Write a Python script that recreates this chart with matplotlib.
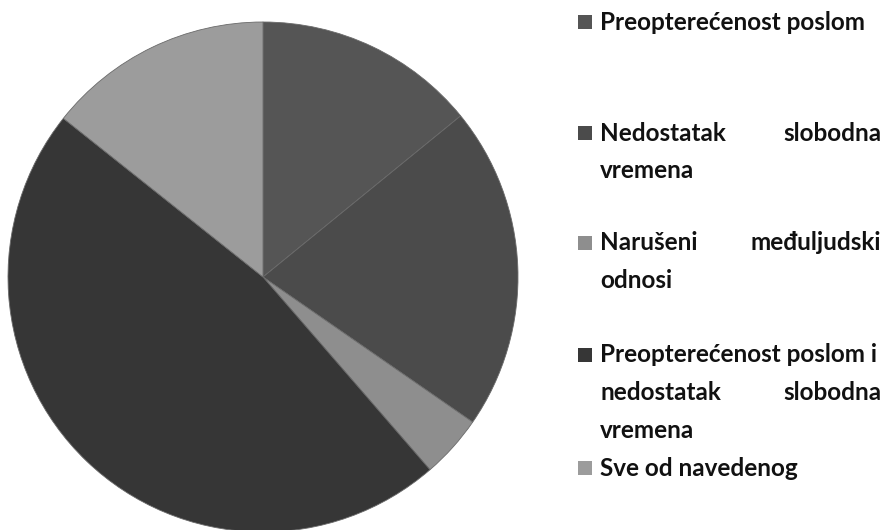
import matplotlib.pyplot as plt
from matplotlib.patches import Rectangle

# share of answers per category (percent)
labels = ["Preopterećenost poslom",
          "Nedostatak slobodna vremena",
          "Narušeni međuljudski odnosi",
          "Preopterećenost poslom i nedostatak slobodna vremena",
          "Sve od navedenog"]
values = [14.1, 20.5, 4.0, 47.0, 14.3]
colors = ["#555555", "#4b4b4b", "#8e8e8e", "#363636", "#9c9c9c"]

# legend text as it is broken over lines in the original (justified)
legend_lines = [
    [["Preopterećenost poslom"]],
    [["Nedostatak", "slobodna"], ["vremena"]],
    [["Narušeni", "međuljudski"], ["odnosi"]],
    [["Preopterećenost poslom i"], ["nedostatak", "slobodna"], ["vremena"]],
    [["Sve od navedenog"]],
]
legend_y = [22, 133, 243, 355, 468]

W, H = 885, 530
fig = plt.figure(figsize=(W / 100, H / 100), dpi=100)

cx, cy, r = 263, 277, 255
ax = fig.add_axes([(cx - r) / W, (H - cy - r) / H, 2 * r / W, 2 * r / H])
ax.pie(values, colors=colors, startangle=90, counterclock=False,
       wedgeprops=dict(edgecolor="#6a6a6a", linewidth=0.6))
ax.set_xlim(-1, 1)
ax.set_ylim(-1, 1)
ax.set_aspect("equal")
ax.axis("off")

font = dict(family="Lato", weight="bold", fontsize=17.5, color="#111111")
x_text, x_right, line_h = 600, 881, 38
for c, lines, y0 in zip(colors, legend_lines, legend_y):
    fig.add_artist(Rectangle((578 / W, 1 - (y0 + 7) / H), 14 / W, 14 / H,
                             transform=fig.transFigure, facecolor=c,
                             edgecolor="none"))
    for i, words in enumerate(lines):
        y = 1 - (y0 + i * line_h) / H
        fig.text(x_text / W, y, words[0], ha="left", va="center", **font)
        if len(words) > 1:
            fig.text(x_right / W, y, words[1], ha="right", va="center", **font)

fig.savefig("out.png", dpi=100)
